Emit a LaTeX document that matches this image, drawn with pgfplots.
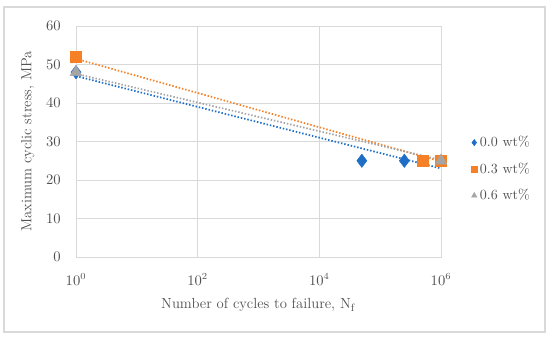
\documentclass[border=0pt]{standalone}
\usepackage{pgfplots}
\pgfplotsset{compat=1.18}
\definecolor{sblue}{RGB}{30,110,200}
\definecolor{sorange}{RGB}{246,128,38}
\definecolor{sgray}{RGB}{165,165,165}
\definecolor{gridc}{RGB}{217,217,217}
\definecolor{txt}{RGB}{80,80,80}
\begin{document}
\begin{tikzpicture}[x=1pt,y=1pt]
\useasboundingbox (-57,-61.5) rectangle (355.5,192.75);
\draw[gridc, line width=0.8pt] (-54,-56.25) rectangle (351.75,187.5);
\begin{axis}[
  at={(0,0)}, anchor=south west,
  scale only axis, width=273.75pt, height=173.25pt,
  xmode=log, log basis x=10,
  xmin=1, xmax=1e6, ymin=0, ymax=60,
  xtick={1,100,10000,1000000},
  ytick={0,10,...,60},
  major tick length=0pt,
  grid=major,
  major grid style={gridc, line width=0.7pt},
  axis line style={gridc, line width=0.7pt},
  tick label style={txt, font=\fontsize{10.5}{12}\selectfont},
  label style={txt, font=\fontsize{11}{13}\selectfont},
  xlabel={Number of cycles to failure, N$_\mathrm{f}$},
  ylabel={Maximum cyclic stress, MPa},
  xlabel style={at={(axis description cs:0.5,-0.208)}, anchor=center},
  ylabel style={at={(axis description cs:-0.132,0.5)}, anchor=center, rotate=0},
  xticklabel style={yshift=-9pt},
  yticklabel style={xshift=-8pt},
  clip=false,
  legend style={at={(axis description cs:1.082,0.535)}, anchor=north west,
     draw=none, fill=none, font=\fontsize{10.5}{12}\selectfont, text=txt,
     row sep=6.5pt, inner sep=0pt},
  legend cell align=left,
  legend image code/.code={\draw[#1, mark size=2.3pt] plot coordinates {(0.15cm,0cm)};},
]
% trend lines
\addplot[forget plot, sblue, line width=1.3pt, dash pattern=on 1.1pt off 1.4pt] coordinates {(1,47.0) (1e6,23.0)};
\addplot[forget plot, sorange, line width=1.3pt, dash pattern=on 1.1pt off 1.4pt] coordinates {(1,51.5) (1e6,24.8)};
\addplot[forget plot, sgray, line width=1.3pt, dash pattern=on 1.1pt off 1.4pt] coordinates {(1,47.6) (1e6,25.2)};
% data
\addplot[only marks, mark=diamond*, mark size=5pt, sblue, mark options={fill=sblue, draw=sblue}] coordinates {(1,48) (5e4,25) (2.5e5,25)};
\addlegendentry{0.0 wt\%}
\addplot[only marks, mark=square*, mark size=4.3pt, sorange, mark options={fill=sorange, draw=sorange}] coordinates {(1,52) (5e5,25) (1e6,25)};
\addlegendentry{0.3 wt\%}
\addplot[only marks, mark=triangle*, mark size=5pt, sgray, mark options={fill=sgray, draw=sgray}] coordinates {(1,48) (1e6,25)};
\addlegendentry{0.6 wt\%}
\end{axis}
\end{tikzpicture}
\end{document}
